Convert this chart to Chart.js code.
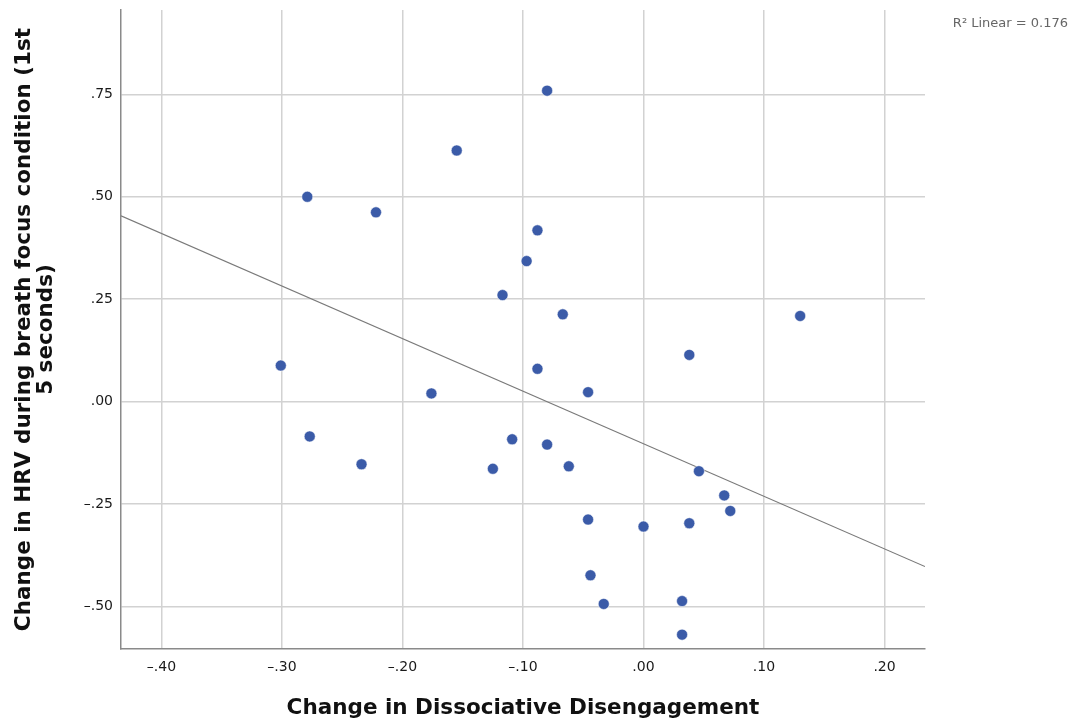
<!DOCTYPE html>
<html>
<head>
<meta charset="utf-8">
<script src="https://cdn.jsdelivr.net/npm/chart.js@4"></script>
<style>
  html, body { margin: 0; padding: 0; background: #fff; }
  #wrap { width: 1072px; height: 721px; }
</style>
</head>
<body>
<div id="wrap"><canvas id="chart" width="1072" height="721"></canvas></div>
<script>
// valeurs
var disengagement = [-0.080, -0.155, -0.279, -0.222, -0.088, -0.097, -0.117, -0.067,
  -0.301, -0.176, -0.088, -0.046, -0.277, -0.234, -0.109, -0.080, -0.125, -0.062,
  -0.046, 0.000, -0.044, -0.033, 0.038, 0.046, 0.067, 0.072, 0.038, 0.032, 0.032, 0.130];
var hrvChange = [0.759, 0.613, 0.500, 0.462, 0.418, 0.343, 0.260, 0.213,
  0.088, 0.020, 0.080, 0.023, -0.085, -0.153, -0.092, -0.105, -0.164, -0.158,
  -0.288, -0.305, -0.424, -0.494, 0.114, -0.170, -0.229, -0.267, -0.297, -0.487, -0.569, 0.209];

// droite de regression
var fitSlope = -1.283;
var fitIntercept = -0.103;
var rSquaredLabel = "R\u00B2 Linear = 0.176";

var xMin = -0.4336, xMax = 0.2336;
var yMin = -0.604, yMax = 0.956;
var xTicks = [-0.40, -0.30, -0.20, -0.10, 0.00, 0.10, 0.20];
var yTicks = [-0.50, -0.25, 0.00, 0.25, 0.50, 0.75];

var xTitle = "Change in Dissociative Disengagement";
var yTitle = ["Change in HRV during breath focus condition (1st", "5 seconds)"];

var points = [];
for (var i = 0; i < disengagement.length; i++) {
  points.push({ x: disengagement[i], y: hrvChange[i] });
}
var fitLine = [
  { x: xMin, y: fitIntercept + fitSlope * xMin },
  { x: xMax, y: fitIntercept + fitSlope * xMax }
];

// format SPSS : .75, -.25, .00
function spssLabel(v) {
  var s = Math.abs(v).toFixed(2).replace(/^0/, "");
  return (v < -1e-9 ? "\u2013" : "") + s;
}

var r2Plugin = {
  id: "r2",
  afterDraw: function (chart) {
    var ctx = chart.ctx;
    ctx.save();
    ctx.font = "13px 'DejaVu Sans'";
    ctx.fillStyle = "#666";
    ctx.textAlign = "right";
    ctx.textBaseline = "middle";
    ctx.fillText(rSquaredLabel, 1068, 24);
    ctx.restore();
  }
};

var fontFam = "'DejaVu Sans', sans-serif";

new Chart(document.getElementById("chart"), {
  type: "scatter",
  data: {
    datasets: [
      {
        label: "points",
        data: points,
        backgroundColor: "#3b5ba8",
        borderColor: "#ffffff",
        borderWidth: 0.5,
        pointRadius: 5.5,
        order: 1
      },
      {
        type: "line",
        label: "fit",
        data: fitLine,
        borderColor: "#7a7a7a",
        borderWidth: 1.2,
        pointRadius: 0,
        fill: false,
        order: 2
      }
    ]
  },
  options: {
    responsive: false,
    animation: false,
    layout: { padding: { left: 0, right: 147, top: 10, bottom: 0 } },
    plugins: {
      legend: { display: false },
      tooltip: { enabled: false }
    },
    scales: {
      x: {
        type: "linear",
        min: xMin,
        max: xMax,
        afterBuildTicks: function (axis) {
          axis.ticks = xTicks.map(function (v) { return { value: v }; });
        },
        afterFit: function (axis) { axis.height = 72; },
        ticks: {
          callback: function (v) { return spssLabel(v); },
          font: { family: fontFam, size: 14 },
          color: "#1a1a1a",
          padding: 10,
          maxRotation: 0
        },
        grid: { color: "#d2d2d2", lineWidth: 1.5, drawTicks: false },
        border: { color: "#8a8a8a", width: 1.5 },
        title: {
          display: true,
          text: xTitle,
          font: { family: fontFam, size: 21.5, weight: "bold" },
          color: "#111",
          padding: { top: 12, bottom: 0 }
        }
      },
      y: {
        type: "linear",
        min: yMin,
        max: yMax,
        afterBuildTicks: function (axis) {
          axis.ticks = yTicks.map(function (v) { return { value: v }; });
        },
        afterFit: function (axis) {
          axis.width = 121;
          axis.paddingTop = 0;
          axis.paddingBottom = 0;
        },
        ticks: {
          callback: function (v) { return spssLabel(v); },
          font: { family: fontFam, size: 14 },
          color: "#1a1a1a",
          padding: 8
        },
        grid: { color: "#d2d2d2", lineWidth: 1.5, drawTicks: false },
        border: { color: "#8a8a8a", width: 1.5 },
        title: {
          display: true,
          text: yTitle,
          font: { family: fontFam, size: 21.5, weight: "bold", lineHeight: 1.0 },
          color: "#111",
          padding: { top: 14, bottom: 0 }
        }
      }
    }
  },
  plugins: [r2Plugin]
});
</script>
</body>
</html>
